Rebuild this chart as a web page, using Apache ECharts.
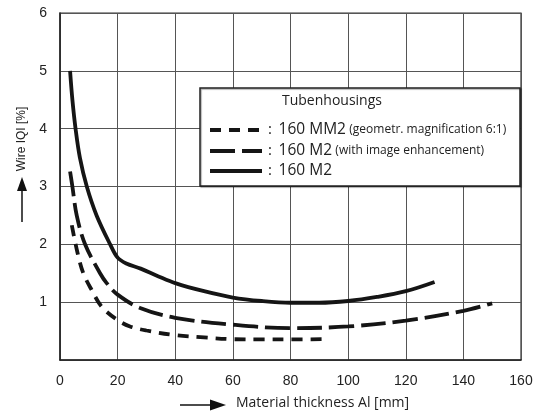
<!DOCTYPE html>
<html>
<head>
<meta charset="utf-8">
<script src="https://cdn.jsdelivr.net/npm/echarts@6/dist/echarts.min.js"></script>
<style>html,body{margin:0;padding:0;background:#fff}#c{width:549px;height:416px}</style>
</head>
<body>
<div id="c"></div>
<script>
var xTicks = [0, 20, 40, 60, 80, 100, 120, 140, 160];
var yTicks = [1, 2, 3, 4, 5, 6];
var seriesNames = ['160 MM2', '160 M2', '160 M2'];
var seriesNotes = ['(geometr. magnification 6:1)', '(with image enhancement)', ''];
var legendTitle = 'Tubenhousings';
var mm2 = [[4.1,2.33],[6.1,1.85],[8.1,1.5],[11,1.21],[14.5,0.92],[20,0.69],[24.3,0.58],[30,0.51],[40,0.43],[50,0.39],[60,0.36],[70,0.355],[80,0.355],[92,0.36]];
var m2Enh = [[3.5,3.26],[4.3,3.0],[5.8,2.5],[8.7,2.0],[13.9,1.5],[16.2,1.33],[20,1.13],[27.8,0.9],[40,0.73],[60,0.61],[80,0.55],[100,0.58],[120,0.68],[140,0.85],[150,0.98]];
var m2 = [[3.5,5.0],[4.3,4.5],[5.4,4.0],[6.9,3.5],[9.3,3.0],[12.7,2.5],[17.4,2.0],[20,1.77],[23,1.67],[28,1.58],[34,1.45],[40,1.33],[50,1.19],[60,1.08],[70,1.02],[80,0.99],[90,0.99],[100,1.02],[110,1.09],[120,1.19],[130,1.35]];

var chart = echarts.init(document.getElementById('c'), null, {renderer: 'canvas'});
var lineCol = '#151515';
var dashes = [[11, 8], [25, 7], null];
function mk(i, data) {
  return {
    name: seriesNames[i] + ' ' + seriesNotes[i], type: 'line', data: data, smooth: 0.35, symbol: 'none',
    lineStyle: {color: lineCol, width: 3.8, type: dashes[i] || 'solid', cap: 'butt'},
    z: 5
  };
}
var graphics = [
  {type: 'rect', shape: {x: 200, y: 88, width: 320, height: 98},
   style: {fill: '#fff', stroke: '#222', lineWidth: 1.5, shadowColor: 'rgba(0,0,0,0.35)', shadowOffsetX: 1, shadowOffsetY: 1, shadowBlur: 1}, z: 10},
  {type: 'text', x: 282, y: 101, style: {text: legendTitle, fontFamily: 'Open Sans', fontSize: 14, fill: '#222', textVerticalAlign: 'middle'}, z: 21},
  {type: 'text', x: 236, y: 403, style: {text: 'Material thickness Al [mm]', fontFamily: 'Open Sans', fontSize: 14, fill: '#222', textVerticalAlign: 'middle'}, z: 21},
  {type: 'line', shape: {x1: 180, y1: 405, x2: 212, y2: 405}, style: {stroke: '#111', lineWidth: 1.5}},
  {type: 'polygon', shape: {points: [[210, 399.5], [226, 405], [210, 410.5]]}, style: {fill: '#111'}},
  {type: 'text', x: 22, y: 139, rotation: Math.PI / 2, style: {text: 'Wire IQI [%]', fontFamily: 'Liberation Sans, Arial', fontSize: 12, fill: '#222', textAlign: 'center', textVerticalAlign: 'middle'}, z: 21},
  {type: 'line', shape: {x1: 22, y1: 188, x2: 22, y2: 222}, style: {stroke: '#111', lineWidth: 1.5}},
  {type: 'polygon', shape: {points: [[17, 191], [22, 177], [27, 191]]}, style: {fill: '#111'}}
];
var rowY = [130, 151, 171];
for (var i = 0; i < 3; i++) {
  graphics.push({type: 'line', shape: {x1: 210, y1: rowY[i], x2: 262, y2: rowY[i]},
    style: {stroke: lineCol, lineWidth: 4, lineDash: dashes[i], lineCap: 'butt'}, z: 21});
  graphics.push({type: 'text', x: 268, y: rowY[i], z: 21, style: {
    text: '{a|:}  {b|' + seriesNames[i] + '}' + (seriesNotes[i] ? ' {c|' + seriesNotes[i] + '}' : ''),
    textVerticalAlign: 'middle',
    rich: {
      a: {fontFamily: 'Open Sans', fontSize: 15, fill: '#222', color: '#222'},
      b: {fontFamily: 'Open Sans', fontSize: 15.5, fill: '#222', color: '#222'},
      c: {fontFamily: 'Open Sans', fontSize: 12, fill: '#222', color: '#222'}
    }}});
}
var opt = {
  animation: false,
  grid: {left: 60, right: 28, top: 13, bottom: 56, show: true, borderColor: '#333', borderWidth: 1.2},
  xAxis: {
    type: 'value', min: 0, max: 160, interval: 20,
    axisLine: {show: true, lineStyle: {color: '#222', width: 1.5}},
    axisTick: {show: false},
    splitLine: {show: true, lineStyle: {color: '#555', width: 1}},
    axisLabel: {margin: 14, color: '#222', fontFamily: 'Liberation Sans, Arial', fontSize: 14,
      formatter: function (v) { return xTicks.indexOf(v) >= 0 ? String(v) : ''; }}
  },
  yAxis: {
    type: 'value', min: 0, max: 6, interval: 1,
    axisLine: {show: true, lineStyle: {color: '#222', width: 1.5}},
    axisTick: {show: false},
    splitLine: {show: true, lineStyle: {color: '#555', width: 1}},
    axisLabel: {margin: 13, color: '#222', fontFamily: 'Liberation Sans, Arial', fontSize: 14,
      formatter: function (v) { return yTicks.indexOf(v) >= 0 ? String(v) : ''; }}
  },
  graphic: graphics,
  series: [mk(0, mm2), mk(1, m2Enh), mk(2, m2)]
};
chart.setOption(opt);
</script>
</body>
</html>
